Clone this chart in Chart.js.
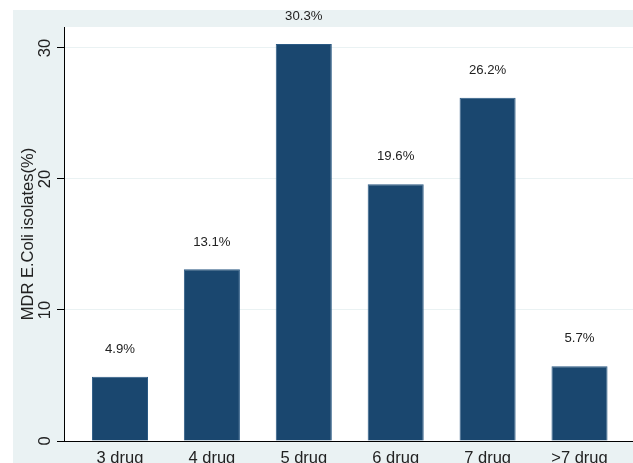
<!DOCTYPE html>
<html>
<head>
<meta charset="utf-8">
<script src="https://cdn.jsdelivr.net/npm/chart.js@4"></script>
<style>
  html, body { margin: 0; padding: 0; background: #fff; }
  #wrap { width: 633px; height: 463px; }
</style>
</head>
<body>
<div id="wrap"><canvas id="barChart"></canvas></div>
<script>
const categories = ['3 drug', '4 drug', '5 drug', '6 drug', '7 drug', '>7 drug'];
const values = [4.9, 13.1, 30.3, 19.6, 26.2, 5.7];
const yTicks = [0, 10, 20, 30];

const FONT = '"Liberation Sans", Arial, sans-serif';
const BAR = '#1a476f';
const BAND = '#eaf2f3';

// Stata-like background: light band around the white plot region
const backdrop = {
  id: 'backdrop',
  beforeDraw(chart) {
    const { ctx, chartArea: a, width, height } = chart;
    ctx.save();
    ctx.fillStyle = '#fff';
    ctx.fillRect(0, 0, width, height);
    ctx.fillStyle = BAND;
    ctx.fillRect(13, 10, width - 13, height - 10);
    ctx.fillStyle = '#fff';
    ctx.fillRect(a.left, a.top, a.right - a.left, a.bottom - a.top);
    ctx.restore();
  }
};

// percent labels above bars
const barLabels = {
  id: 'barLabels',
  afterDatasetsDraw(chart) {
    const { ctx } = chart;
    const meta = chart.getDatasetMeta(0);
    ctx.save();
    ctx.font = '13.2px ' + FONT;
    ctx.fillStyle = '#222';
    ctx.textAlign = 'center';
    ctx.textBaseline = 'middle';
    meta.data.forEach((bar, i) => {
      ctx.fillText(values[i].toFixed(1) + '%', bar.x, bar.y - 27.5);
    });
    ctx.restore();
  }
};

new Chart(document.getElementById('barChart'), {
  type: 'bar',
  data: {
    datasets: [{
      data: values.map((v, i) => ({ x: i, y: v })),
      backgroundColor: BAR,
      borderColor: '#2b5a84',
      borderWidth: 1,
      barPercentage: 0.61,
      categoryPercentage: 1
    }]
  },
  options: {
    responsive: true,
    maintainAspectRatio: false,
    animation: false,
    layout: { padding: { top: 27, right: 0, bottom: 0, left: 0 } },
    plugins: {
      legend: { display: false },
      tooltip: { enabled: false }
    },
    scales: {
      x: {
        type: 'linear',
        min: -0.609,
        max: 5.582,
        offset: false,
        grid: { display: false, offset: false },
        border: { display: true, color: '#000', width: 1 },
        afterBuildTicks: (s) => { s.ticks = categories.map((_, i) => ({ value: i })); },
        afterFit: (s) => { s.height = 22; },
        ticks: {
          autoSkip: false,
          maxRotation: 0,
          padding: 0,
          color: '#222',
          font: { family: FONT, size: 16.5 },
          callback: (v) => categories[v]
        }
      },
      y: {
        min: 0,
        max: 31.6,
        afterBuildTicks: (s) => { s.ticks = yTicks.map(v => ({ value: v })); },
        afterFit: (s) => { s.width = 64; },
        grid: { color: BAND, tickColor: '#000', tickLength: 7, lineWidth: 1 },
        border: { display: true, color: '#000', width: 1 },
        title: {
          display: true,
          text: 'MDR E.Coli isolates(%)',
          color: '#222',
          font: { family: FONT, size: 16.5 },
          padding: { top: 19, bottom: 0 }
        },
        ticks: {
          minRotation: 90,
          maxRotation: 90,
          crossAlign: 'center',
          padding: 2,
          color: '#222',
          font: { family: FONT, size: 16.5 }
        }
      }
    }
  },
  plugins: [backdrop, barLabels]
});
</script>
</body>
</html>
